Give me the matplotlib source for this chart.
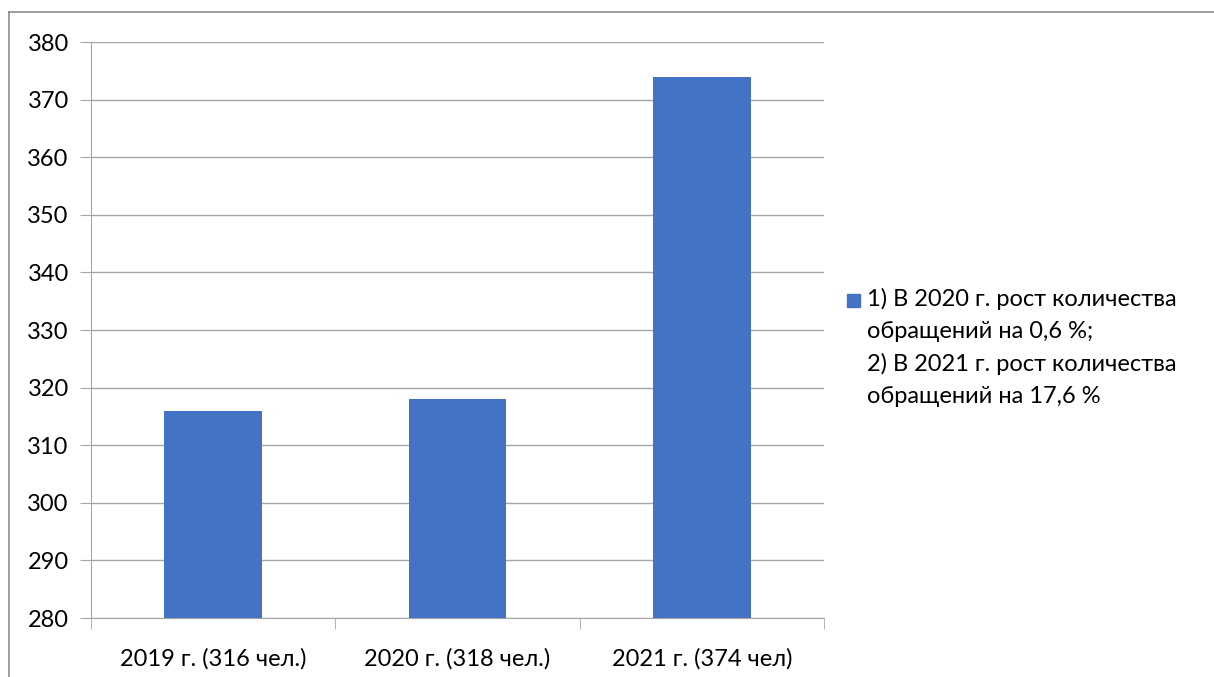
import matplotlib
matplotlib.use('Agg')
import matplotlib.pyplot as plt
from matplotlib.patches import Rectangle
from matplotlib.lines import Line2D

categories = ['2019 г. (316 чел.)', '2020 г. (318 чел.)', '2021 г. (374 чел)']
values = [316, 318, 374]
yticks = [280, 290, 300, 310, 320, 330, 340, 350, 360, 370, 380]
legend_text = ('1) В 2020 г. рост количества\nобращений на 0,6 %;\n'
               '2) В 2021 г. рост количества\nобращений на 17,6 %')

plt.rcParams['font.family'] = ['Lato', 'DejaVu Sans']

W, H = 1214, 677
fig = plt.figure(figsize=(W / 100, H / 100), dpi=100)
ax = fig.add_axes([91 / W, 1 - 618 / H, (824 - 91) / W, (618 - 42) / H])

bar_color = '#4472C4'
grid_color = '#A6A6A6'

x = list(range(len(categories)))
ax.bar(x, values, width=0.4, color=bar_color, zorder=3)
ax.set_xlim(-0.5, len(categories) - 0.5)
ax.set_ylim(280, 380)
ax.set_yticks(yticks)
ax.set_yticklabels([str(v) for v in yticks], fontsize=17)
ax.yaxis.grid(True, color=grid_color, linewidth=1, zorder=0)

ax.set_xticks(x)
ax.set_xticklabels(categories, fontsize=17)
ax.tick_params(axis='x', length=0, pad=22)
ax.tick_params(axis='y', length=8, color=grid_color, pad=8)

# category boundary ticks
ax.set_xticks([i - 0.5 for i in range(len(categories) + 1)], minor=True)
ax.tick_params(axis='x', which='minor', length=8, color=grid_color, direction='out')

for s in ['top', 'right']:
    ax.spines[s].set_visible(False)
for s in ['left', 'bottom']:
    ax.spines[s].set_color(grid_color)

# legend drawn by hand so the square sits at the first line
fig.add_artist(Rectangle((847 / W, 1 - 307 / H), 13 / W, 13 / H,
                         transform=fig.transFigure, color=bar_color))
fig.text(867 / W, 1 - 288 / H, legend_text, fontsize=17, va='top', ha='left',
         linespacing=1.63)

# outer chart frame (partly cut off)
fig.add_artist(Line2D([9 / W, 1], [1 - 12 / H, 1 - 12 / H], color='#8C8C8C', linewidth=1.2))
fig.add_artist(Line2D([9 / W, 9 / W], [0, 1 - 12 / H], color='#8C8C8C', linewidth=1.2))

fig.savefig('out.png', dpi=100)
